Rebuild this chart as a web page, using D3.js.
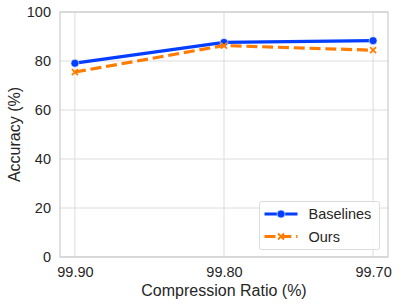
<!DOCTYPE html>
<html>
<head>
<meta charset="utf-8">
<script src="https://cdn.jsdelivr.net/npm/d3@7"></script>
<style>
  body { margin: 0; background: #fff; }
  text { font-family: "Liberation Sans", Arial, sans-serif; fill: #262626; }
</style>
</head>
<body>
<svg id="chart" width="398" height="306"></svg>
<script>
const ratios = [99.90, 99.80, 99.70];
const baselines = [79.1, 87.6, 88.3];
const ours = [75.5, 86.3, 84.4];
const yTicks = [0, 20, 40, 60, 80, 100];

const series = [
  { name: 'Baselines', values: baselines, color: '#023eff', dash: null, marker: 'circle' },
  { name: 'Ours', values: ours, color: '#ff7c00', dash: '11,4.8', marker: 'x' }
];

const W = 398, H = 306;
const margin = { top: 12, right: 10, bottom: 49, left: 60 };
const svg = d3.select('#chart');

const x = d3.scaleLinear().domain([99.91, 99.69]).range([margin.left, W - margin.right]);
const y = d3.scaleLinear().domain([0, 100]).range([H - margin.bottom, margin.top]);

const grid = svg.append('g');
grid.selectAll('.gy').data(yTicks).join('line')
    .attr('x1', margin.left).attr('x2', W - margin.right)
    .attr('y1', d => y(d)).attr('y2', d => y(d))
    .attr('stroke', '#dcdcdc').attr('stroke-width', 1);
grid.selectAll('.gx').data(ratios).join('line')
    .attr('x1', d => x(d)).attr('x2', d => x(d))
    .attr('y1', margin.top).attr('y2', H - margin.bottom)
    .attr('stroke', '#dcdcdc').attr('stroke-width', 1);

// frame
svg.append('rect')
    .attr('x', margin.left).attr('y', margin.top)
    .attr('width', W - margin.right - margin.left)
    .attr('height', H - margin.bottom - margin.top)
    .attr('fill', 'none').attr('stroke', '#cccccc').attr('stroke-width', 1.2);

const xAxis = svg.append('g')
    .attr('transform', `translate(0,${H - margin.bottom})`)
    .call(d3.axisBottom(x).tickValues(ratios).tickFormat(d3.format('.2f')).tickSize(0).tickPadding(9));
const yAxis = svg.append('g')
    .attr('transform', `translate(${margin.left},0)`)
    .call(d3.axisLeft(y).tickValues(yTicks).tickSize(0).tickPadding(9));
[xAxis, yAxis].forEach(a => {
  a.select('.domain').remove();
  a.selectAll('text').style('font-size', '14.5px').attr('fill', '#262626')
      .style('font-family', '"Liberation Sans", Arial, sans-serif');
});
xAxis.selectAll('text').attr('dy', '0.75em');

svg.append('text')
    .attr('x', (margin.left + W - margin.right) / 2).attr('y', 296)
    .attr('text-anchor', 'middle').style('font-size', '16px')
    .text('Compression Ratio (%)');
svg.append('text')
    .attr('transform', `translate(20,${(margin.top + H - margin.bottom) / 2}) rotate(-90)`)
    .attr('text-anchor', 'middle').style('font-size', '16px')
    .text('Accuracy (%)');

const line = d3.line().x((d, i) => x(ratios[i])).y(d => y(d));

function drawMarker(g, type, cx, cy, color, size) {
  if (type === 'circle') {
    g.append('circle').attr('cx', cx).attr('cy', cy).attr('r', size)
        .attr('fill', color).attr('stroke', '#fff').attr('stroke-width', 0.6);
  } else {
    const s = size;
    g.append('path')
        .attr('d', `M${cx - s},${cy - s}L${cx + s},${cy + s}M${cx - s},${cy + s}L${cx + s},${cy - s}`)
        .attr('stroke', color).attr('stroke-width', 1.8).attr('fill', 'none');
  }
}

series.forEach(s => {
  const g = svg.append('g');
  g.append('path').datum(s.values)
      .attr('d', line)
      .attr('fill', 'none')
      .attr('stroke', s.color)
      .attr('stroke-width', 3.2)
      .attr('stroke-dasharray', s.dash);
  s.values.forEach((v, i) => drawMarker(g, s.marker, x(ratios[i]), y(v), s.color, s.marker === 'circle' ? 4 : 3));
});

// legend
const lg = svg.append('g').attr('transform', 'translate(259.5,201.5)');
lg.append('rect').attr('width', 120).attr('height', 48).attr('rx', 2)
    .attr('fill', '#fff').attr('fill-opacity', 0.85)
    .attr('stroke', '#dcdcdc').attr('stroke-width', 1);
series.forEach((s, i) => {
  const cy = 12.5 + i * 22.5;
  lg.append('line').attr('x1', 5).attr('x2', 38).attr('y1', cy).attr('y2', cy)
      .attr('stroke', s.color).attr('stroke-width', 3.2).attr('stroke-dasharray', s.dash ? '11,4.8' : null)
      .attr('stroke-dashoffset', s.dash ? 0 : null);
  drawMarker(lg, s.marker, 21.5, cy, s.color, s.marker === 'circle' ? 4 : 3);
  lg.append('text').attr('x', 49).attr('y', cy).attr('dy', '0.35em')
      .style('font-size', '14.5px').text(s.name);
});
</script>
</body>
</html>
